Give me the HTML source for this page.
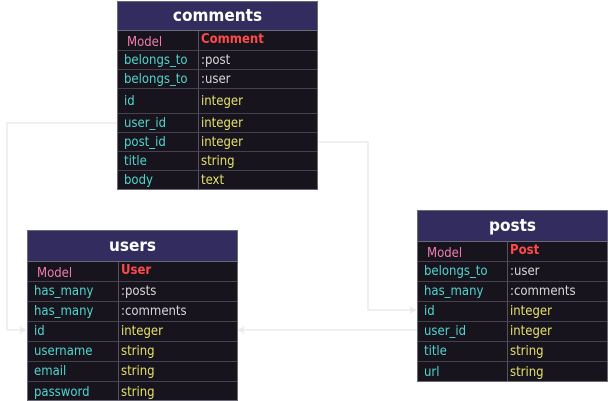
<!DOCTYPE html>
<html><head><meta charset="utf-8"><style>
body{margin:0;width:608px;height:401px;background:#fff;position:relative;overflow:hidden;font-family:"DejaVu Sans Condensed","DejaVu Sans","Liberation Sans",sans-serif;}
.t{position:absolute;background:#17141d;border:1px solid #6b6878;box-sizing:border-box;overflow:hidden}
.h{background:#332c5e;color:#fff;font-weight:bold;font-size:17px;text-align:center;border-bottom:1px solid #6b6878;box-sizing:border-box;}
.r{position:relative;border-bottom:1px solid #45424f;box-sizing:border-box;font-size:13px;}
.r:last-child{border-bottom:none}
.r span{position:absolute;top:0;bottom:0;display:flex;align-items:center;}
.k{left:6px;color:#4fd6cf}
.v{color:#d8d8d8;padding-left:2px;border-left:1px solid #55525f;}
.y{color:#e6e06a}
.m{color:#f07cb0;padding-top:4px;left:9px}
.n{color:#ff4a4a;font-weight:bold;align-items:flex-start!important;padding-top:1px}
svg{position:absolute;left:0;top:0}
</style></head><body>
<svg width="608" height="401">
<g stroke="#ebebeb" stroke-width="1.5" fill="none">
<polyline points="117,123 7,123 7,330 22,330"/>
<polyline points="318,142 368,142 368,310 412,310"/>
<polyline points="417,330 242,330"/>
</g>
<g fill="#ebebeb">
<polygon points="27,330 19,326 21,330 19,334"/>
<polygon points="417,310 409,306 411,310 409,314"/>
<polygon points="237,330 245,326 243,330 245,334"/>
</g>
</svg>

<div class="t" style="left:117px;top:1px;width:201px;height:189px">
<div class="h" style="height:29px;line-height:29px">comments</div>
<div class="r" style="height:20px"><span class="m">Model</span><span class="v n" style="left:80px;right:0">Comment</span></div>
<div class="r" style="height:19px"><span class="k">belongs_to</span><span class="v" style="left:80px;right:0">:post</span></div>
<div class="r" style="height:19px"><span class="k">belongs_to</span><span class="v" style="left:80px;right:0">:user</span></div>
<div class="r" style="height:25px"><span class="k">id</span><span class="v y" style="left:80px;right:0">integer</span></div>
<div class="r" style="height:19px"><span class="k">user_id</span><span class="v y" style="left:80px;right:0">integer</span></div>
<div class="r" style="height:19px"><span class="k">post_id</span><span class="v y" style="left:80px;right:0">integer</span></div>
<div class="r" style="height:19px"><span class="k">title</span><span class="v y" style="left:80px;right:0">string</span></div>
<div class="r" style="height:19px"><span class="k">body</span><span class="v y" style="left:80px;right:0">text</span></div>
</div>

<div class="t" style="left:27px;top:230px;width:211px;height:171px">
<div class="h" style="height:31px;line-height:31px">users</div>
<div class="r" style="height:20px"><span class="m">Model</span><span class="v n" style="left:90px;right:0">User</span></div>
<div class="r" style="height:20px"><span class="k">has_many</span><span class="v" style="left:90px;right:0">:posts</span></div>
<div class="r" style="height:20px"><span class="k">has_many</span><span class="v" style="left:90px;right:0">:comments</span></div>
<div class="r" style="height:20px"><span class="k">id</span><span class="v y" style="left:90px;right:0">integer</span></div>
<div class="r" style="height:20px"><span class="k">username</span><span class="v y" style="left:90px;right:0">string</span></div>
<div class="r" style="height:20px"><span class="k">email</span><span class="v y" style="left:90px;right:0">string</span></div>
<div class="r" style="height:20px"><span class="k">password</span><span class="v y" style="left:90px;right:0">string</span></div>
</div>

<div class="t" style="left:417px;top:210px;width:191px;height:172px">
<div class="h" style="height:31px;line-height:31px">posts</div>
<div class="r" style="height:20px"><span class="m">Model</span><span class="v n" style="left:89px;right:0">Post</span></div>
<div class="r" style="height:20px"><span class="k">belongs_to</span><span class="v" style="left:89px;right:0">:user</span></div>
<div class="r" style="height:20px"><span class="k">has_many</span><span class="v" style="left:89px;right:0">:comments</span></div>
<div class="r" style="height:20px"><span class="k">id</span><span class="v y" style="left:89px;right:0">integer</span></div>
<div class="r" style="height:20px"><span class="k">user_id</span><span class="v y" style="left:89px;right:0">integer</span></div>
<div class="r" style="height:20px"><span class="k">title</span><span class="v y" style="left:89px;right:0">string</span></div>
<div class="r" style="height:20px"><span class="k">url</span><span class="v y" style="left:89px;right:0">string</span></div>
</div>
</body></html>
